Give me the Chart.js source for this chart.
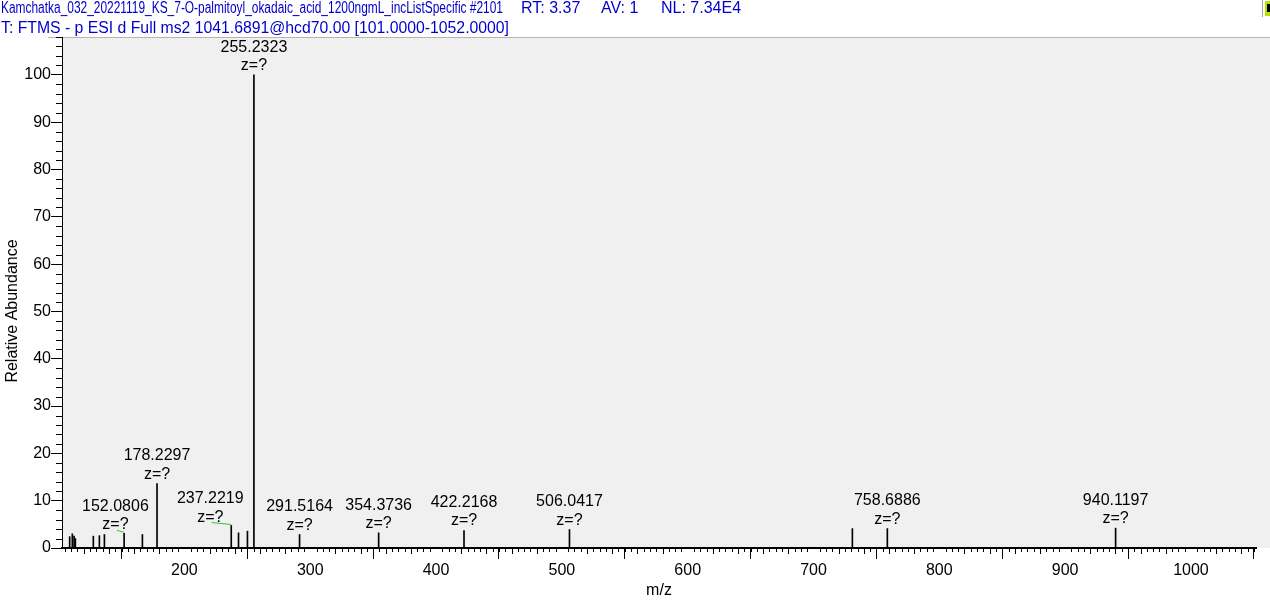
<!DOCTYPE html>
<html><head><meta charset="utf-8">
<script src="https://cdn.jsdelivr.net/npm/chart.js@4.4.1/dist/chart.umd.min.js"></script>
<style>html,body{margin:0;padding:0;background:#fff;overflow:hidden}canvas{display:block}</style>
</head><body>
<canvas id="c" width="1270" height="606"></canvas>
<script>
// ---- data ----
const titleFile = "Kamchatka_032_20221119_KS_7-O-palmitoyl_okadaic_acid_1200ngmL_incListSpecific #2101";
const titleInfo = ["RT: 3.37", "AV: 1", "NL: 7.34E4"];
const titleLine2 = "T: FTMS - p ESI d Full ms2 1041.6891@hcd70.00 [101.0000-1052.0000]";
const xAxisTitle = "m/z";
const yAxisTitle = "Relative Abundance";
const mzValues     = [108.8, 110.9, 112.3, 113.3, 127.6, 132.4, 136.4, 152.0806, 166.6, 178.2297, 237.2219, 243.0, 250.1, 255.2323, 291.5164, 354.3736, 422.2168, 506.0417, 730.9, 758.6886, 940.1197];
const relAbundance = [2.4,   3.0,   2.5,   2.0,   2.5,   2.6,   2.85,  3.1,      2.85,  13.6,     4.75,     3.2,   3.55,  100,      2.85,     3.2,      3.7,      3.9,      4.1,   4.1,      4.2];
const peakLabels   = ["", "", "", "", "", "", "", "152.0806", "", "178.2297", "237.2219", "", "", "255.2323", "291.5164", "354.3736", "422.2168", "506.0417", "", "758.6886", "940.1197"];
const chargeLabel = "z=?";
const xTickValues = [200, 300, 400, 500, 600, 700, 800, 900, 1000];
const yTickValues = [0, 10, 20, 30, 40, 50, 60, 70, 80, 90, 100];
const xRange = [102.7, 1051.7];
const yRange = [0, 108];

// ---- style ----
const FONT = "'Liberation Sans', Arial, sans-serif";
const labelShift = {"152.0806": -8.7, "237.2219": -21};
const titleInfoX = [521, 601, 661];

const decor = {
  id: 'decor',
  beforeDraw(chart) {
    const {ctx, chartArea: a} = chart;
    ctx.save();
    ctx.fillStyle = '#f0f0f0';
    ctx.fillRect(a.left + 1, a.top, chart.width - a.left - 1, a.bottom - a.top);
    ctx.strokeStyle = '#b4b4b4'; ctx.lineWidth = 1;
    ctx.beginPath(); ctx.moveTo(48, a.top + 0.5); ctx.lineTo(chart.width, a.top + 0.5); ctx.stroke();
    // header
    ctx.fillStyle = '#0000cc'; ctx.font = '16px ' + FONT; ctx.textBaseline = 'alphabetic'; ctx.textAlign = 'left';
    ctx.fillText(titleFile, 1, 13, 502);
    titleInfo.forEach((t, i) => ctx.fillText(t, titleInfoX[i], 13));
    ctx.fillText(titleLine2, 1, 33, 508);
    // small marker top-right
    ctx.strokeStyle = '#a0a0a0';
    ctx.beginPath(); ctx.moveTo(1262.5, 0); ctx.lineTo(1262.5, 17); ctx.stroke();
    ctx.fillStyle = '#b8e000'; ctx.fillRect(1265, 1, 5, 15);
    ctx.fillStyle = '#000'; ctx.fillRect(1267, 4, 3, 8);
    ctx.restore();
  },
  afterDatasetsDraw(chart) {
    const {ctx} = chart;
    const meta = chart.getDatasetMeta(0);
    ctx.save();
    ctx.font = '16px ' + FONT; ctx.fillStyle = '#000'; ctx.textAlign = 'center'; ctx.textBaseline = 'alphabetic';
    meta.data.forEach((el, i) => {
      const txt = peakLabels[i];
      if (!txt) return;
      const shift = labelShift[txt] || 0;
      const cx = el.x + shift;
      const base = el.y - (shift ? 4 : 5);
      ctx.fillText(chargeLabel, cx, base);
      ctx.fillText(txt, cx, base - 18.3);
      if (shift) {
        ctx.strokeStyle = '#3cc03c'; ctx.lineWidth = 1;
        ctx.beginPath(); ctx.moveTo(cx + 1.5, base + 1); ctx.lineTo(el.x, el.y - 1); ctx.stroke();
      }
    });
    ctx.restore();
  },
  afterDraw(chart) {
    const {ctx} = chart;
    const xs = chart.scales.x, ys = chart.scales.y;
    ctx.save();
    ctx.strokeStyle = '#000'; ctx.lineWidth = 1;
    ctx.beginPath();
    for (let v = Math.ceil(xs.min / 5) * 5; v <= xs.max; v += 5) {
      if (v % 100 === 0) continue;
      const len = (v % 20 === 0) ? 6 : 4;
      const px = Math.round(xs.getPixelForValue(v)) + 0.5;
      ctx.moveTo(px, ys.bottom); ctx.lineTo(px, ys.bottom + len);
    }
    for (let v = 0; v <= ys.max; v += 2) {
      if (v % 10 === 0) continue;
      const py = Math.round(ys.getPixelForValue(v)) + 0.5;
      ctx.moveTo(xs.left, py); ctx.lineTo(xs.left - 6, py);
    }
    ctx.stroke();
    // y axis title
    ctx.fillStyle = '#000'; ctx.font = '16px ' + FONT;
    ctx.translate(13, 311); ctx.rotate(-Math.PI / 2);
    ctx.textAlign = 'center'; ctx.textBaseline = 'middle';
    ctx.fillText(yAxisTitle, 0, 0);
    ctx.restore();
  }
};

new Chart(document.getElementById('c'), {
  type: 'bar',
  data: {
    datasets: [{
      data: mzValues.map((m, i) => ({x: m, y: relAbundance[i]})),
      backgroundColor: '#000',
      borderWidth: 0,
      barThickness: 1
    }]
  },
  options: {
    responsive: false,
    animation: false,
    events: [],
    layout: {padding: {top: 37, right: 14, left: 0, bottom: 0}},
    plugins: {legend: {display: false}, tooltip: {enabled: false}, title: {display: false}},
    scales: {
      x: {
        type: 'linear', min: xRange[0], max: xRange[1], offset: false,
        afterFit(s) { s.height = 58; },
        afterBuildTicks(s) { s.ticks = xTickValues.map(v => ({value: v})); },
        grid: {drawOnChartArea: false, drawTicks: true, tickLength: 11, tickColor: '#000', tickWidth: 1},
        border: {display: true, color: '#000', width: 2},
        ticks: {color: '#000', font: {family: FONT, size: 16}, padding: 2, maxRotation: 0, autoSkip: false, callback: v => String(v)},
        title: {display: true, text: xAxisTitle, color: '#000', font: {family: FONT, size: 16}, padding: {top: 0, bottom: 6}}
      },
      y: {
        type: 'linear', min: yRange[0], max: yRange[1],
        afterFit(s) { s.width = 62; },
        afterBuildTicks(s) { s.ticks = yTickValues.map(v => ({value: v})); },
        grid: {drawOnChartArea: false, drawTicks: true, tickLength: 11, tickColor: '#000', tickWidth: 1},
        border: {display: true, color: '#000', width: 1},
        ticks: {color: '#000', font: {family: FONT, size: 16}, padding: 0, autoSkip: false, callback: v => String(v)}
      }
    }
  },
  plugins: [decor]
});
</script>
</body></html>
